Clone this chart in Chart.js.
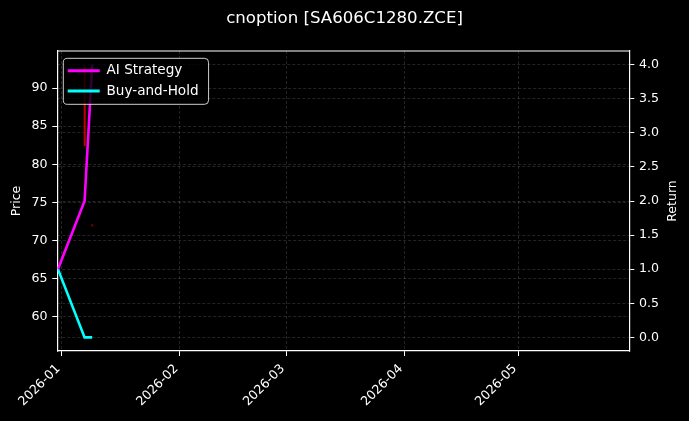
<!DOCTYPE html>
<html>
<head>
<meta charset="utf-8">
<script src="https://cdn.jsdelivr.net/npm/chart.js@4.4.1/dist/chart.umd.min.js"></script>
<style>
html,body{margin:0;padding:0;background:#000;}
canvas{display:block;}
</style>
</head>
<body>
<canvas id="c" width="689" height="421"></canvas>
<script>
// ---- data ----
const returnDates = ['2025-12-31', '2026-01-07', '2026-01-09'];
const aiStrategy = [1.0, 2.0, 4.0];
const buyAndHold = [1.0, 0.0, 0.0];
const priceTimes = ['2026-01-07T00:00', '2026-01-07T01:00', '2026-01-08T00:00', '2026-01-09T00:00'];
const priceValues = [93.0, 82.4, null, 72.0];
const xTickDates = ['2026-01-01', '2026-02-01', '2026-03-01', '2026-04-01', '2026-05-01'];
const xTickLabels = ['2026-01', '2026-02', '2026-03', '2026-04', '2026-05'];
const priceTicks = [60, 65, 70, 75, 80, 85, 90];
const returnTicks = [0, 0.5, 1.0, 1.5, 2.0, 2.5, 3.0, 3.5, 4.0];
const xRange = ['2025-12-30T20:00', '2026-05-30T03:00'];
const priceRange = [55.5, 94.86];
const returnRange = [-0.2, 4.2];
const chartTitle = 'cnoption [SA606C1280.ZCE]';

const ts = s => Date.parse((s.length === 10 ? s + 'T00:00' : s) + ':00Z');

const FAMILY = "'DejaVu Sans', 'Liberation Sans', sans-serif";
const GRID = 'rgba(255,255,255,0.2)';
const LEG_FONT = 13.6;
const LEG_BOX = 32;

function drawLegend(chart, lg) {
  const ctx = chart.ctx, ca = chart.chartArea;
  ctx.save();
  ctx.font = LEG_FONT + 'px ' + FAMILY;
  const maxText = Math.max(...lg.legendItems.map(it => ctx.measureText(it.text).width));
  const bx = ca.left + 6, by = ca.top + 7.3;
  const handleX = bx + 4.4;
  const textX = handleX + LEG_BOX + LEG_FONT / 2;
  const bw = textX + maxText + 10 - bx, bh = 46, r = 4;
  ctx.beginPath();
  ctx.moveTo(bx + r, by);
  ctx.lineTo(bx + bw - r, by);
  ctx.quadraticCurveTo(bx + bw, by, bx + bw, by + r);
  ctx.lineTo(bx + bw, by + bh - r);
  ctx.quadraticCurveTo(bx + bw, by + bh, bx + bw - r, by + bh);
  ctx.lineTo(bx + r, by + bh);
  ctx.quadraticCurveTo(bx, by + bh, bx, by + bh - r);
  ctx.lineTo(bx, by + r);
  ctx.quadraticCurveTo(bx, by, bx + r, by);
  ctx.closePath();
  ctx.fillStyle = 'rgba(0,0,0,0.8)';
  ctx.fill();
  ctx.lineWidth = 1;
  ctx.strokeStyle = 'rgba(255,255,255,0.8)';
  ctx.stroke();
  ctx.restore();
  const L = lg.left, T = lg.top, pad = lg.options.labels.padding;
  lg.left = handleX - pad;
  lg.top = by + 12.4 - LEG_FONT / 2 - pad;
  lg.draw();
  lg.left = L; lg.top = T;
}

// matplotlib's twin-axis label reads bottom-to-top, so draw the right title rotated -90deg
function patchRightTitle(scale) {
  scale.drawTitle = function () {
    const t = this.options.title;
    if (!t.display) return;
    const ctx = this.ctx;
    const font = Chart.helpers.toFont(t.font);
    const pad = Chart.helpers.toPadding(t.padding);
    const x = this.right - pad.top - font.lineHeight / 2;
    const y = (this.top + this.bottom) / 2;
    ctx.save();
    ctx.translate(x, y);
    ctx.rotate(-Math.PI / 2);
    ctx.font = font.string;
    ctx.fillStyle = t.color;
    ctx.textAlign = 'center';
    ctx.textBaseline = 'middle';
    ctx.fillText(t.text, 0, 0);
    ctx.restore();
  };
}

const overlay = {
  id: 'overlay',
  beforeUpdate(chart) {
    const lg = chart.legend;
    if (lg && !lg.__patched) {
      lg.__patched = true;
      lg._layers = () => [{ z: 1, draw: () => drawLegend(chart, lg) }];
    }
  },
  afterLayout(chart) {
    if (chart.scales.yR) patchRightTitle(chart.scales.yR);
    if (chart._layers) chart._layers.sort((a, b) => (a.z - b.z) || (a._idx - b._idx));
  },
  afterDatasetsDraw(chart) {
    const ctx = chart.ctx, ca = chart.chartArea;
    ctx.save();
    ctx.strokeStyle = '#fff';
    ctx.lineWidth = 1.2;
    ctx.beginPath();
    ctx.moveTo(ca.left, ca.top);
    ctx.lineTo(ca.right, ca.top);
    ctx.stroke();
    ctx.restore();
  }
};

const tickFont = { family: FAMILY, size: 12.6 };
const gridOpts = { color: GRID, lineWidth: 0.7, drawTicks: true, tickLength: 5, tickColor: '#fff', tickWidth: 1, tickBorderDash: [] };
const borderOpts = { display: true, color: '#fff', width: 1.2, dash: [3, 2] };

new Chart(document.getElementById('c').getContext('2d'), {
  type: 'line',
  data: {
    datasets: [
      {
        label: 'AI Strategy',
        data: returnDates.map((d, i) => ({ x: ts(d), y: aiStrategy[i] })),
        borderColor: '#ff00ff', backgroundColor: '#ff00ff',
        borderWidth: 2.6, pointRadius: 0, tension: 0, yAxisID: 'yR'
      },
      {
        label: 'Buy-and-Hold',
        data: returnDates.map((d, i) => ({ x: ts(d), y: buyAndHold[i] })),
        borderColor: '#00ffff', backgroundColor: '#00ffff',
        borderWidth: 2.6, pointRadius: 0, tension: 0, yAxisID: 'yR'
      },
      {
        label: 'Price',
        data: priceTimes.map((d, i) => ({ x: ts(d), y: priceValues[i] })),
        borderColor: 'rgba(255,0,0,0.75)', backgroundColor: 'rgba(190,0,0,0.6)',
        borderWidth: 2, tension: 0, yAxisID: 'yL', spanGaps: false,
        pointBorderWidth: 0,
        pointRadius: c => {
          const i = c.dataIndex, v = priceValues;
          return (v[i] != null && v[i - 1] == null && v[i + 1] == null) ? 1.2 : 0;
        }
      }
    ]
  },
  options: {
    responsive: false,
    animation: false,
    layout: { padding: 0 },
    plugins: {
      tooltip: { enabled: false },
      title: {
        display: true, text: chartTitle, color: '#fff',
        font: { family: FAMILY, size: 16.6, weight: 'normal' },
        padding: { top: 8.5, bottom: 22.6 }
      },
      legend: {
        position: 'chartArea', align: 'start',
        labels: {
          color: '#fff', font: { family: FAMILY, size: LEG_FONT },
          boxWidth: LEG_BOX, boxHeight: 3, padding: 6.7,
          filter: item => item.datasetIndex < 2,
          generateLabels: chart => Chart.defaults.plugins.legend.labels.generateLabels(chart).map(l =>
            Object.assign(l, { fillStyle: chart.data.datasets[l.datasetIndex].borderColor, strokeStyle: 'rgba(0,0,0,0)', lineWidth: 0 }))
        }
      }
    },
    scales: {
      x: {
        type: 'linear', position: 'bottom',
        min: ts(xRange[0]), max: ts(xRange[1]),
        afterBuildTicks: s => { s.ticks = xTickDates.map(d => ({ value: ts(d) })); },
        afterFit: s => { s.height = 70; },
        ticks: {
          autoSkip: false, minRotation: 45, maxRotation: 45, color: '#fff', font: tickFont,
          padding: 5.5, labelOffset: -3.5,
          callback: (v, i) => xTickLabels[i]
        },
        grid: gridOpts,
        border: borderOpts
      },
      yL: {
        type: 'linear', position: 'left',
        min: priceRange[0], max: priceRange[1],
        afterBuildTicks: s => { s.ticks = priceTicks.map(v => ({ value: v })); },
        afterFit: s => { s.width = 57.3; },
        ticks: { color: '#fff', font: tickFont, padding: 4.8, callback: v => String(v) },
        grid: gridOpts,
        border: borderOpts,
        title: { display: true, text: 'Price', color: '#fff', font: { family: FAMILY, size: 12.5 }, padding: { top: 9, bottom: 0 } }
      },
      yR: {
        type: 'linear', position: 'right',
        min: returnRange[0], max: returnRange[1],
        afterBuildTicks: s => { s.ticks = returnTicks.map(v => ({ value: v })); },
        afterFit: s => { s.width = 59.7; },
        ticks: { color: '#fff', font: tickFont, padding: 4.8, callback: v => Number(v).toFixed(1) },
        grid: gridOpts,
        border: borderOpts,
        title: { display: true, text: 'Return', color: '#fff', font: { family: FAMILY, size: 12.5 }, padding: { top: 8.8, bottom: 0 } }
      }
    }
  },
  plugins: [overlay]
});
</script>
</body>
</html>
